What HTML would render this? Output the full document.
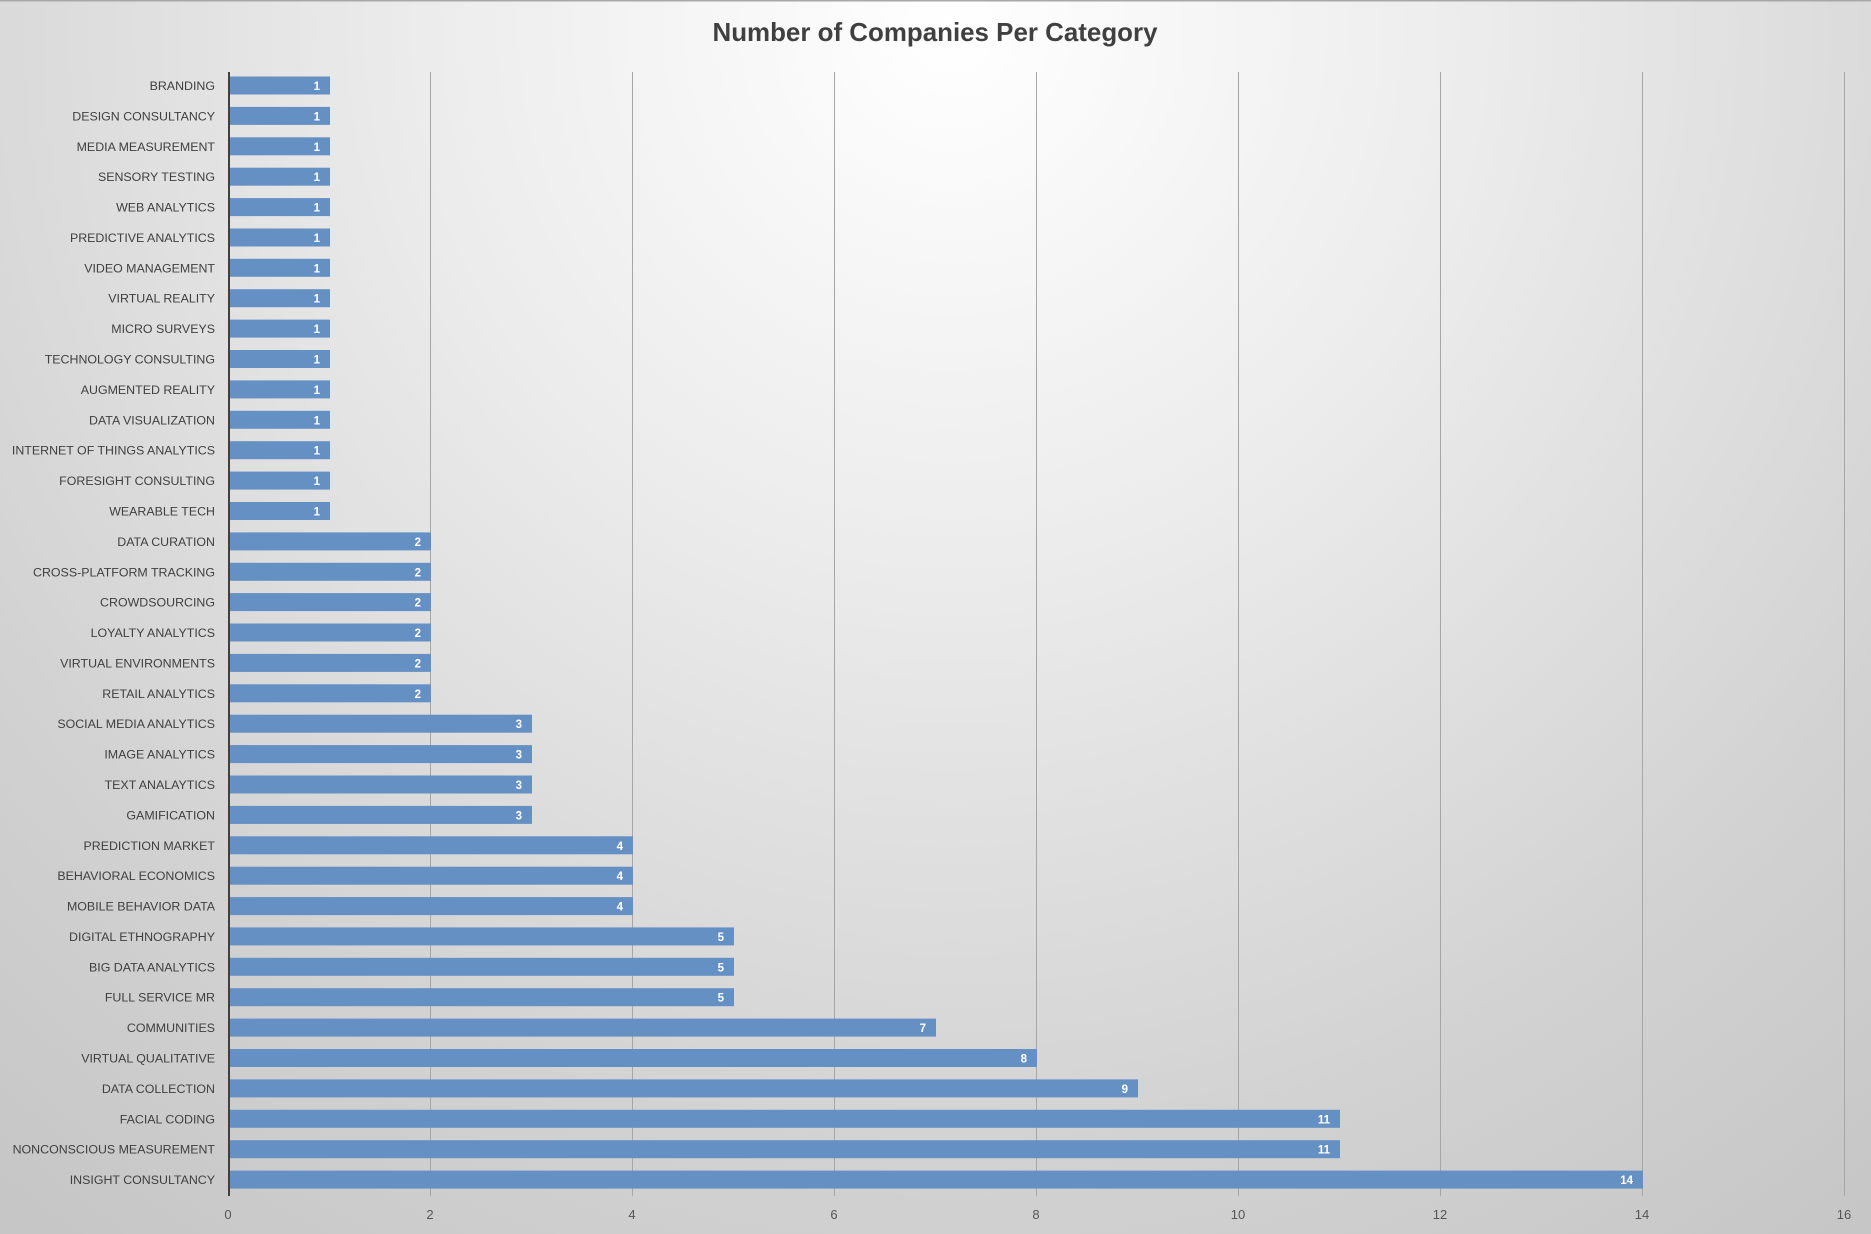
<!DOCTYPE html>
<html><head><meta charset="utf-8"><style>
html,body{margin:0;padding:0;}
body{width:1871px;height:1234px;overflow:hidden;}
svg{display:block;font-family:"Liberation Sans",sans-serif;}
.l{font-size:12.4px;fill:#404040;text-anchor:end;}
.v{font-size:11.5px;fill:#fff;font-weight:bold;text-anchor:end;}
.t{font-size:13px;fill:#555;text-anchor:middle;}
</style></head><body>
<svg width="1871" height="1234" viewBox="0 0 1871 1234">
<defs>
<radialGradient id="bg" cx="950" cy="30" r="1500" gradientUnits="userSpaceOnUse">
<stop offset="0" stop-color="#ffffff"/>
<stop offset="0.35" stop-color="#ececec"/>
<stop offset="0.75" stop-color="#d2d2d2"/>
<stop offset="1" stop-color="#c6c6c6"/>
</radialGradient>
</defs>
<rect width="1871" height="1234" fill="url(#bg)"/>
<rect width="1871" height="1.5" fill="#a8a8a8"/>
<text x="935" y="41" font-size="26" font-weight="bold" fill="#404040" text-anchor="middle" textLength="445" lengthAdjust="spacingAndGlyphs">Number of Companies Per Category</text>
<g stroke="#a6a6a6" stroke-width="1">
<line x1="430.5" y1="72" x2="430.5" y2="1196"/>
<line x1="632.5" y1="72" x2="632.5" y2="1196"/>
<line x1="834.5" y1="72" x2="834.5" y2="1196"/>
<line x1="1036.5" y1="72" x2="1036.5" y2="1196"/>
<line x1="1238.5" y1="72" x2="1238.5" y2="1196"/>
<line x1="1440.5" y1="72" x2="1440.5" y2="1196"/>
<line x1="1642.5" y1="72" x2="1642.5" y2="1196"/>
<line x1="1844.5" y1="72" x2="1844.5" y2="1196"/>
</g>
<g fill="#6590c4">
<rect x="229" y="76.5" width="101" height="18"/><rect x="229" y="106.9" width="101" height="18"/><rect x="229" y="137.3" width="101" height="18"/><rect x="229" y="167.7" width="101" height="18"/><rect x="229" y="198.1" width="101" height="18"/><rect x="229" y="228.5" width="101" height="18"/><rect x="229" y="258.8" width="101" height="18"/><rect x="229" y="289.2" width="101" height="18"/><rect x="229" y="319.6" width="101" height="18"/><rect x="229" y="350" width="101" height="18"/><rect x="229" y="380.4" width="101" height="18"/><rect x="229" y="410.8" width="101" height="18"/><rect x="229" y="441.2" width="101" height="18"/><rect x="229" y="471.6" width="101" height="18"/><rect x="229" y="502" width="101" height="18"/>
<rect x="229" y="532.4" width="202" height="18"/><rect x="229" y="562.8" width="202" height="18"/><rect x="229" y="593.1" width="202" height="18"/><rect x="229" y="623.5" width="202" height="18"/><rect x="229" y="653.9" width="202" height="18"/><rect x="229" y="684.3" width="202" height="18"/>
<rect x="229" y="714.7" width="303" height="18"/><rect x="229" y="745.1" width="303" height="18"/><rect x="229" y="775.5" width="303" height="18"/><rect x="229" y="805.9" width="303" height="18"/>
<rect x="229" y="836.3" width="404" height="18"/><rect x="229" y="866.7" width="404" height="18"/><rect x="229" y="897.1" width="404" height="18"/>
<rect x="229" y="927.4" width="505" height="18"/><rect x="229" y="957.8" width="505" height="18"/><rect x="229" y="988.2" width="505" height="18"/>
<rect x="229" y="1018.6" width="707" height="18"/>
<rect x="229" y="1049" width="808" height="18"/>
<rect x="229" y="1079.4" width="909" height="18"/>
<rect x="229" y="1109.8" width="1111" height="18"/>
<rect x="229" y="1140.2" width="1111" height="18"/>
<rect x="229" y="1170.6" width="1414" height="18"/>
</g>
<line x1="229" y1="72" x2="229" y2="1196" stroke="#404040" stroke-width="2"/>
<g class="l">
<text x="215" y="90">BRANDING</text><text x="215" y="120.4">DESIGN CONSULTANCY</text><text x="215" y="150.8">MEDIA MEASUREMENT</text><text x="215" y="181.2">SENSORY TESTING</text><text x="215" y="211.6">WEB ANALYTICS</text><text x="215" y="242">PREDICTIVE ANALYTICS</text><text x="215" y="272.3">VIDEO MANAGEMENT</text><text x="215" y="302.7">VIRTUAL REALITY</text><text x="215" y="333.1">MICRO SURVEYS</text><text x="215" y="363.5">TECHNOLOGY CONSULTING</text><text x="215" y="393.9">AUGMENTED  REALITY</text><text x="215" y="424.3">DATA VISUALIZATION</text><text x="215" y="454.7">INTERNET OF THINGS ANALYTICS</text><text x="215" y="485.1">FORESIGHT CONSULTING</text><text x="215" y="515.5">WEARABLE TECH</text><text x="215" y="545.9">DATA CURATION</text><text x="215" y="576.3">CROSS-PLATFORM TRACKING</text><text x="215" y="606.6">CROWDSOURCING</text><text x="215" y="637">LOYALTY ANALYTICS</text><text x="215" y="667.4">VIRTUAL ENVIRONMENTS</text><text x="215" y="697.8">RETAIL ANALYTICS</text><text x="215" y="728.2">SOCIAL MEDIA ANALYTICS</text><text x="215" y="758.6">IMAGE ANALYTICS</text><text x="215" y="789">TEXT ANALAYTICS</text><text x="215" y="819.4">GAMIFICATION</text><text x="215" y="849.8">PREDICTION MARKET</text><text x="215" y="880.2">BEHAVIORAL ECONOMICS</text><text x="215" y="910.6">MOBILE  BEHAVIOR DATA</text><text x="215" y="940.9">DIGITAL ETHNOGRAPHY</text><text x="215" y="971.3">BIG DATA ANALYTICS</text><text x="215" y="1001.7">FULL SERVICE MR</text><text x="215" y="1032.1">COMMUNITIES</text><text x="215" y="1062.5">VIRTUAL QUALITATIVE</text><text x="215" y="1092.9">DATA COLLECTION</text><text x="215" y="1123.3">FACIAL CODING</text><text x="215" y="1153.7">NONCONSCIOUS MEASUREMENT</text><text x="215" y="1184.1">INSIGHT CONSULTANCY</text>
</g>
<g class="v">
<text x="320" y="90">1</text><text x="320" y="120.4">1</text><text x="320" y="150.8">1</text><text x="320" y="181.2">1</text><text x="320" y="211.6">1</text><text x="320" y="242">1</text><text x="320" y="272.3">1</text><text x="320" y="302.7">1</text><text x="320" y="333.1">1</text><text x="320" y="363.5">1</text><text x="320" y="393.9">1</text><text x="320" y="424.3">1</text><text x="320" y="454.7">1</text><text x="320" y="485.1">1</text><text x="320" y="515.5">1</text>
<text x="421" y="545.9">2</text><text x="421" y="576.3">2</text><text x="421" y="606.6">2</text><text x="421" y="637">2</text><text x="421" y="667.4">2</text><text x="421" y="697.8">2</text>
<text x="522" y="728.2">3</text><text x="522" y="758.6">3</text><text x="522" y="789">3</text><text x="522" y="819.4">3</text>
<text x="623" y="849.8">4</text><text x="623" y="880.2">4</text><text x="623" y="910.6">4</text>
<text x="724" y="940.9">5</text><text x="724" y="971.3">5</text><text x="724" y="1001.7">5</text>
<text x="926" y="1032.1">7</text>
<text x="1027" y="1062.5">8</text>
<text x="1128" y="1092.9">9</text>
<text x="1330" y="1123.3">11</text>
<text x="1330" y="1153.7">11</text>
<text x="1633" y="1184.1">14</text>
</g>
<g class="t">
<text x="228" y="1219">0</text><text x="430" y="1219">2</text><text x="632" y="1219">4</text><text x="834" y="1219">6</text><text x="1036" y="1219">8</text><text x="1238" y="1219">10</text><text x="1440" y="1219">12</text><text x="1642" y="1219">14</text><text x="1844" y="1219">16</text>
</g>
</svg>
</body></html>
